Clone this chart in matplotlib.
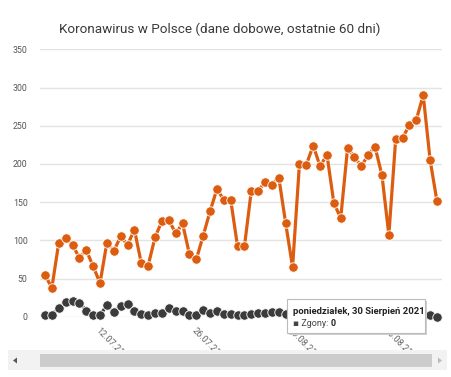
import pandas as pd
import matplotlib
matplotlib.use("Agg")
from matplotlib import pyplot as plt
from matplotlib.patches import Rectangle, Polygon
import matplotlib.dates as mdates

plt.rcParams['font.family'] = ['Roboto', 'DejaVu Sans']

# daily data, last days shown (04.07.21 - 30.08.21)
dates = pd.date_range("2021-07-04", "2021-08-30", freq="D")
zakazenia = [54, 38, 97, 103, 94, 77, 87, 66, 44, 97,
             86, 105, 94, 114, 70, 67, 104, 125, 127, 109,
             122, 82, 75, 106, 138, 167, 153, 153, 92, 92,
             165, 165, 176, 173, 182, 122, 65, 200, 199, 224,
             197, 212, 149, 129, 221, 209, 197, 212, 222, 185,
             107, 233, 234, 251, 258, 290, 205, 151]
zgony = [2, 2, 11, 19, 21, 18, 8, 2, 2, 15,
         6, 14, 16, 8, 3, 2, 5, 5, 11, 7,
         7, 2, 2, 9, 5, 7, 3, 3, 2, 2,
         4, 5, 5, 6, 6, 4, 1, 3, 2, 4,
         1, 3, 2, 5, 2, 3, 1, 4, 2, 3,
         3, 2, 1, 2, 4, 3, 2, 0]
tick_dates = ["2021-07-12", "2021-07-26", "2021-08-09", "2021-08-23"]
y_ticks = [0, 50, 100, 150, 200, 250, 300, 350]

title = "Koronawirus w Polsce (dane dobowe, ostatnie 60 dni)"
tip_date = "poniedziałek, 30 Sierpień 2021"

W, H = 451, 377
fig = plt.figure(figsize=(W / 100, H / 100), dpi=100)
fig.patch.set_facecolor("white")


def fx(x):
    return x / W


def fy(y):
    return 1 - y / H


ax = fig.add_axes([fx(40), fy(316.7), fx(442) - fx(40), fy(49.3) - fy(316.7)])
ax.set_facecolor("white")

orange = "#dc5d0f"
dark = "#3b3b3b"
ax.plot(dates, zakazenia, color=orange, lw=2.3, marker="o", ms=6.8,
        mec="white", mew=0.6, zorder=4, clip_on=False)
ax.plot(dates, zgony, color=dark, lw=2.3, marker="o", ms=6.8,
        mec="white", mew=0.6, zorder=3, clip_on=False)

ax.set_ylim(0, 350)
ax.set_yticks(y_ticks)
ax.set_xlim(dates[0] - pd.Timedelta(hours=17.5), dates[-1] + pd.Timedelta(hours=17.5))
ax.grid(axis="y", color="#e3e3e3", lw=1)
ax.set_axisbelow(True)
for s in ax.spines.values():
    s.set_visible(False)
ax.tick_params(axis="y", length=0, labelsize=6.3, labelcolor="#555555", pad=9)
ax.tick_params(axis="x", length=0, labelsize=6.5, labelcolor="#666666", pad=7)

ax.set_xticks(pd.to_datetime(tick_dates))
ax.xaxis.set_major_formatter(mdates.DateFormatter("%d.%m.%y"))
for lab in ax.get_xticklabels():
    lab.set_rotation(-45)
    lab.set_ha("left")
    lab.set_va("top")
    lab.set_rotation_mode("anchor")

fig.text(fx(220), fy(29), title, ha="center", va="center",
         fontsize=9.7, color="#3a3a3a")

# tooltip
shadow = Rectangle((fx(289), fy(335)), fx(425) - fx(287), fy(299) - fy(333),
                   transform=fig.transFigure, facecolor="#d0d0d0",
                   edgecolor="none", zorder=9)
fig.patches.append(shadow)
box = Rectangle((fx(287), fy(333)), fx(425) - fx(287), fy(299) - fy(333),
                transform=fig.transFigure, facecolor="white",
                edgecolor="#bbbbbb", lw=0.8, zorder=10)
fig.patches.append(box)
fig.text(fx(293), fy(311.5), tip_date, fontsize=6.8, fontweight="bold",
         color="#222222", va="center", zorder=11)
lbl = fig.text(fx(293), fy(323), "▪ Zgony:", fontsize=6.5, color="#444444",
               va="center", zorder=11)
fig.canvas.draw()
ext = lbl.get_window_extent()
fig.text(ext.x1 / W + fx(2.5), fy(323), "0", fontsize=6.5, fontweight="bold",
         color="#222222", va="center", zorder=11)

# scrollbar
track = Rectangle((fx(8), fy(370)), fx(447) - fx(8), fy(350) - fy(370),
                  transform=fig.transFigure, facecolor="#f2f2f2",
                  edgecolor="none", zorder=1)
fig.patches.append(track)
thumb = Rectangle((fx(40), fy(366.5)), fx(432) - fx(40), fy(354) - fy(366.5),
                  transform=fig.transFigure, facecolor="#cccccc",
                  edgecolor="none", zorder=2)
fig.patches.append(thumb)
left_arrow = Polygon([(fx(13), fy(360.5)), (fx(17), fy(357.5)), (fx(17), fy(363.5))],
                     closed=True, transform=fig.transFigure,
                     facecolor="#555555", edgecolor="none", zorder=3)
right_arrow = Polygon([(fx(442), fy(360.5)), (fx(438), fy(357.5)), (fx(438), fy(363.5))],
                      closed=True, transform=fig.transFigure,
                      facecolor="#bbbbbb", edgecolor="none", zorder=3)
fig.patches.append(left_arrow)
fig.patches.append(right_arrow)

fig.savefig("out.png", dpi=100)
